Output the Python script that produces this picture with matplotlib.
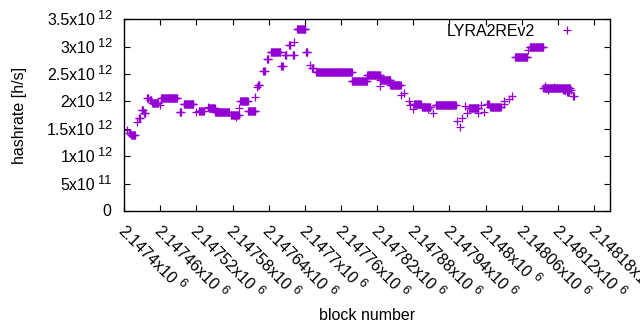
import numpy as np
import matplotlib
matplotlib.use('Agg')
import matplotlib.pyplot as plt
from matplotlib.transforms import offset_copy

plt.rcParams['font.family'] = ['Liberation Sans', 'DejaVu Sans']

# runs of (nearly) constant hashrate: block offset from 2147400, value in 1e12 h/s
seg_start = [5, 8, 12, 21, 24, 29, 33, 38, 43, 47, 59, 61, 92, 99, 119, 124, 139, 140,
             151, 177, 185, 190, 193, 206, 218, 220, 222, 231, 237, 243, 261, 267, 274,
             280, 282, 287, 302, 309, 312, 319, 378, 403, 425, 425, 442, 459, 465, 472,
             475, 480, 481, 494, 505, 513, 517, 553, 558, 561, 566, 569, 572, 588, 592,
             597, 603, 608, 630, 631, 638, 644, 649, 670, 673, 696, 699, 704, 713, 729,
             735, 742, 745]
seg_end = [5, 10, 18, 21, 26, 31, 35, 40, 45, 57, 59, 88, 94, 115, 119, 132, 139, 150,
           174, 190, 185, 190, 205, 218, 218, 220, 224, 233, 239, 259, 263, 269, 276,
           282, 282, 301, 304, 309, 314, 378, 403, 425, 425, 442, 459, 459, 465, 472,
           475, 480, 492, 508, 505, 513, 550, 553, 558, 561, 566, 569, 588, 588, 592,
           597, 605, 625, 630, 631, 638, 644, 669, 670, 696, 740, 699, 704, 713, 732,
           738, 742, 746]
seg_rate = [1.48, 1.43, 1.38, 1.63, 1.69, 1.84, 1.79, 2.07, 2.03, 1.98, 1.93, 2.06, 1.80,
            1.95, 1.81, 1.83, 1.89, 1.875, 1.80, 1.75, 1.71, 1.875, 2.01, 1.82, 2.08, 2.27,
            2.30, 2.55, 2.77, 2.91, 2.65, 2.85, 3.03, 2.85, 3.08, 3.33, 2.90, 2.66, 2.61,
            2.54, 2.38, 2.48, 2.29, 2.40, 2.30, 2.12, 2.15, 2.01, 1.94, 1.86, 1.95, 1.89,
            1.86, 1.79, 1.93, 1.65, 1.54, 1.69, 1.91, 1.79, 1.875, 1.78, 1.94, 1.81, 1.95,
            1.90, 1.96, 2.00, 2.04, 2.10, 2.82, 2.93, 3.00, 2.24, 2.28, 2.20, 2.26, 2.21,
            2.17, 2.20, 2.10]

base_block = 2147400
xtick_vals = [2147400 + 60 * i for i in range(14)]
xtick_mant = ['2.1474', '2.14746', '2.14752', '2.14758', '2.14764', '2.1477', '2.14776',
              '2.14782', '2.14788', '2.14794', '2.148', '2.14806', '2.14812', '2.14818']
xtick_exp = '6'
ytick_vals = [0, 0.5e12, 1e12, 1.5e12, 2e12, 2.5e12, 3e12, 3.5e12]
ytick_mant = ['0', '5', '1', '1.5', '2', '2.5', '3', '3.5']
ytick_exp = ['', '11', '12', '12', '12', '12', '12', '12']

blocks = []
rates = []
for s, e, r in zip(seg_start, seg_end, seg_rate):
    b = np.arange(s, e + 1)
    blocks.append(b + base_block)
    rates.append(np.full(len(b), r * 1e12))
blocks = np.concatenate(blocks)
rates = np.concatenate(rates)

FS = 11.5     # 16 px
FS_SUP = 9.2

fig = plt.figure(figsize=(6.4, 3.3), dpi=100)
ax = fig.add_axes([0.194, 0.3606, 0.7587, 0.581])
ax.plot(blocks, rates, linestyle='none', marker='+', color='#9400d3',
        markersize=5.5, markeredgewidth=0.9, label='LYRA2REv2')

ax.set_xlim(2147400, 2148206)
ax.set_ylim(0, 3.5e12)
ax.set_xticks(xtick_vals)
ax.set_yticks(ytick_vals)
ax.tick_params(direction='in', top=True, right=True, length=4, width=0.8,
               labelbottom=False, labelleft=False)
for sp in ax.spines.values():
    sp.set_linewidth(1)

renderer = fig.canvas.get_renderer()


def text_width(s, fs):
    t = fig.text(0, 0, s, fontsize=fs)
    w = t.get_window_extent(renderer).width
    t.remove()
    return w


# y tick labels, gnuplot style "Nx10^e"
ytr = ax.get_yaxis_transform()
for v, m, e in zip(ytick_vals, ytick_mant, ytick_exp):
    if e == '':
        ax.text(0, v, m, fontsize=FS, ha='right', va='center',
                transform=offset_copy(ytr, fig, x=-13, y=0, units='dots'))
        continue
    ax.text(0, v, m + 'x10', fontsize=FS, ha='right', va='baseline',
            transform=offset_copy(ytr, fig, x=-29, y=-6, units='dots'))
    ax.text(0, v, e, fontsize=FS_SUP, ha='left', va='baseline',
            transform=offset_copy(ytr, fig, x=-26, y=0, units='dots'))

# x tick labels, rotated -45 deg
xtr = ax.get_xaxis_transform()
c = np.cos(np.radians(45))
for v, m in zip(xtick_vals, xtick_mant):
    s = m + 'x10'
    w = text_width(s, FS)
    x0, y0 = -7, -21
    ax.text(v, 0, s, fontsize=FS, rotation=-45, rotation_mode='anchor',
            ha='left', va='baseline', clip_on=False,
            transform=offset_copy(xtr, fig, x=x0, y=y0, units='dots'))
    d = w + 4
    up = 6
    ax.text(v, 0, xtick_exp, fontsize=FS_SUP, rotation=-45, rotation_mode='anchor',
            ha='left', va='baseline', clip_on=False,
            transform=offset_copy(xtr, fig, x=x0 + d * c + up * c,
                                  y=y0 - d * c + up * c, units='dots'))

ax.set_xlabel('block number', fontsize=FS)
ax.xaxis.set_label_coords(0.5, -0.505)
ax.set_ylabel('hashrate [h/s]', fontsize=FS)
ax.yaxis.set_label_coords(-0.2, 0.5)

ax.legend(loc='upper right', markerfirst=False, frameon=False, fontsize=FS,
          bbox_to_anchor=(0.958, 1.009), borderaxespad=0, handletextpad=1.0,
          handlelength=2)

fig.savefig('out.png', dpi=100)
